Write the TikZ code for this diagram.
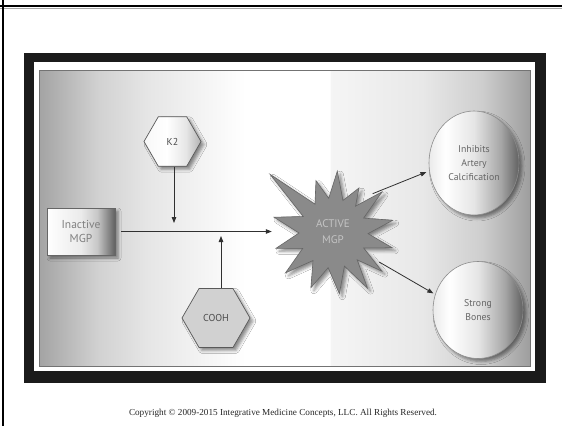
\documentclass[tikz,border=0pt]{standalone}
\usepackage{fontspec}
\newfontfamily\labfont{PT Sans}
\newfontfamily\copyfont{Liberation Serif}
\usetikzlibrary{shapes.geometric,arrows.meta,shadows.blur}
\definecolor{linec}{HTML}{303030}
\definecolor{boxblack}{HTML}{1B1B1B}
\definecolor{txtgray}{HTML}{666666}
\definecolor{startxt}{HTML}{C4C4C4}
\definecolor{starfill}{HTML}{8A8A8A}
\pgfdeclarehorizontalshading{panelshade}{100bp}{color(0bp)=(black!36); color(25bp)=(black!36); color(31bp)=(black!18); color(36bp)=(black!10); color(41bp)=(black!5); color(46bp)=(white); color(54.6bp)=(white); color(54.7bp)=(black!4); color(64bp)=(black!9); color(70bp)=(black!19); color(75bp)=(black!38); color(100bp)=(black!38)}
\pgfdeclarehorizontalshading{boxshade}{100bp}{color(0bp)=(white); color(25bp)=(white); color(50bp)=(black!8); color(62bp)=(black!22); color(75bp)=(black!62); color(100bp)=(black!62)}
\pgfdeclarehorizontalshading{ballshade}{100bp}{color(0bp)=(black!8); color(25bp)=(black!8); color(34bp)=(white); color(50bp)=(black!10); color(65bp)=(black!35); color(75bp)=(black!62); color(100bp)=(black!62)}
\pgfdeclarehorizontalshading{hexshade}{100bp}{color(0bp)=(black!3); color(25bp)=(black!3); color(45bp)=(white); color(62bp)=(black!10); color(75bp)=(black!30); color(100bp)=(black!30)}
\tikzset{
  arr/.style={draw=linec, line width=0.8pt, -{Triangle[length=6pt,width=4.5pt]}},
  softshadow/.style={blur shadow={shadow xshift=3pt,shadow yshift=-3pt,shadow blur radius=3pt,shadow opacity=45}},
  hexnode/.style={regular polygon, regular polygon sides=6, inner sep=0pt, draw=black!65, line width=0.7pt, softshadow, font=\labfont\fontsize{10}{12}\selectfont, text=black!70},
  ballnode/.style={ellipse, inner sep=0pt, draw=black!45, line width=0.6pt, shading=ballshade, softshadow, align=center, font=\labfont\fontsize{9.8}{14}\selectfont, text=txtgray},
}
\begin{document}
\begin{tikzpicture}[x=1pt,y=-1pt]
\useasboundingbox (0,0) rectangle (562,426);
\fill[white] (0,0) rectangle (562,426);
% outer frame lines
\draw[black, line width=1.8pt] (0,6) -- (562,6);
\draw[black!35, line width=0.5pt] (0,8.5) -- (562,8.5);
\draw[black, line width=1.8pt] (3,0) -- (3,426);
% black box
\fill[boxblack] (24,53) rectangle (546,383);
\fill[white] (34,62) rectangle (535,371);
% gradient panel
\shade[shading=panelshade] (39,70) rectangle (530,366);
\draw[black!55, line width=0.9pt] (39,70) rectangle (530,366);

% nodes
\node[hexnode, minimum size=57pt, shading=hexshade] (k2) at (172.5,141.5) {K2};
\node[hexnode, minimum size=68pt, fill=black!18] (cooh) at (216,318) {COOH};
\node[rectangle, draw=black!60, line width=0.6pt, shading=boxshade, softshadow,
      minimum width=68pt, minimum height=47pt, inner sep=0pt, align=center,
      font=\labfont\fontsize{11.5}{13.5}\selectfont, text=black!50] (inact) at (81,231.5) {Inactive\\MGP};

% star
\begin{scope}[shift={(333,233)}]
\filldraw[fill=starfill, draw=black!60, line width=0.6pt, softshadow]
 (137:86pt) -- (122:34pt) -- (108:55pt) -- (97:35pt) -- (86:62pt) -- (73:34pt) -- (60:52pt) -- (50:35pt)
 -- (40:64pt) -- (26:34pt) -- (12:61pt) -- (-1:35pt) -- (-14:61pt) -- (-26:34pt) -- (-38:62pt)
 -- (-48:36pt) -- (-58:65pt) -- (-71:35pt) -- (-84:61pt) -- (-98:35pt) -- (-112:59pt) -- (-126:34pt)
 -- (-140:62pt) -- (-153:34pt) -- (-165:59pt) -- (-180:34pt) -- (165:61pt) -- (151:34pt) -- cycle;
\end{scope}
\node[circle, minimum size=110pt, inner sep=0pt, align=center, font=\labfont\fontsize{11}{16}\selectfont, text=startxt] (star) at (333,232) {ACTIVE\\MGP};

\node[ballnode, minimum width=90pt, minimum height=104pt] (inh) at (474,163) {Inhibits\\Artery\\Calcification};
\node[ballnode, minimum width=90pt, minimum height=97pt] (sb) at (478,310) {Strong\\Bones};

% connectors
\coordinate (k2end) at (174,223);
\coordinate (coohend) at (221,236);
\draw[arr, shorten <=6pt, shorten >=6pt] (inact.east) -- (inact.east -| star.west);
\draw[arr] (k2.south -| k2end) -- (k2end);
\draw[arr] (cooh.north -| coohend) -- (coohend);
\draw[arr, shorten >=3pt] (star.44) -- (inh.190);
\draw[arr, shorten >=2pt] (star.-33) -- (sb.160);

% copyright
\node[font=\copyfont\fontsize{9.2}{10}\selectfont, text=black!85] (copy) at (283,413) {Copyright © 2009-2015 Integrative Medicine Concepts, LLC. All Rights Reserved.};
\end{tikzpicture}
\end{document}
